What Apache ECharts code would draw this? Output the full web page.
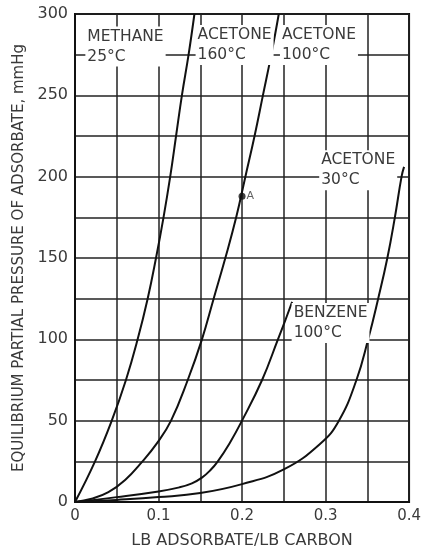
<!DOCTYPE html>
<html><head><meta charset="utf-8">
<script src="https://cdn.jsdelivr.net/npm/echarts@6/dist/echarts.min.js"></script>
<style>html,body{margin:0;padding:0;background:#fff}#c{width:424px;height:554px}</style>
</head><body><div id="c"></div>
<script>
// ---- data ----
var methane25 = [[0,0],[0.024,25],[0.044,50],[0.061,75],[0.075,100],[0.087,125],[0.097,150],[0.106,175],[0.114,200],[0.121,225],[0.128,250],[0.136,275],[0.143,300]];
var acetone160 = [[0,0],[0.02,2],[0.04,6],[0.06,13.5],[0.08,24.5],[0.098,36],[0.115,50],[0.135,75],[0.152,100],[0.166,125],[0.18,150],[0.193,175],[0.204,200],[0.215,225],[0.225,250],[0.235,275],[0.244,300]];
var benzene100 = [[0,0],[0.05,3],[0.1,6.5],[0.125,9],[0.14,11.5],[0.152,15],[0.162,19.5],[0.171,25],[0.185,36],[0.2,50],[0.224,75],[0.243,100],[0.252,112],[0.26,123]];
var acetone30 = [[0,0],[0.05,1.3],[0.1,3],[0.15,5.5],[0.2,11],[0.25,20],[0.294,36],[0.316,50],[0.337,75],[0.351,100],[0.363,125],[0.374,150],[0.383,175],[0.391,200],[0.394,206]];
var pointA = [[0.2,188]];
var xTickLabels = ['0','0.1','0.2','0.3','0.4'];
var yTickLabels = ['0','50','100','150','200','250','300'];
var curveLabels = ['METHANE\n25°C','ACETONE\n160°C','ACETONE\n100°C','ACETONE\n30°C','BENZENE\n100°C','A'];

var FONT = 'DejaVu Sans';
var TXT = '#3a3a3a';
function lbl(text, x, y) {
  return {
    coord: [x, y], symbol: 'rect', symbolSize: 1,
    itemStyle: {color: 'rgba(0,0,0,0)'},
    label: {show: true, formatter: text, position: [0, 0], align: 'left', verticalAlign: 'top',
      color: TXT, fontFamily: FONT, fontSize: 15.5, lineHeight: 20,
      backgroundColor: '#fff', padding: [0, 2, 0, 2]}
  };
}
function curve(name, data, marks) {
  return {
    name: name, type: 'line', data: data, smooth: 0.45,
    showSymbol: false, symbol: 'none',
    lineStyle: {color: '#111', width: 2}, z: 3,
    markPoint: marks ? {data: marks, z: 5, animation: false} : undefined,
    animation: false
  };
}
var chart = echarts.init(document.getElementById('c'), null, {renderer: 'canvas'});
chart.setOption({
  backgroundColor: '#fff',
  animation: false,
  grid: {left: 75, right: 13, top: 14, bottom: 46, show: true, borderColor: '#111', borderWidth: 2, backgroundColor: 'transparent'},
  xAxis: {
    type: 'value', min: 0, max: 0.4, interval: 0.05,
    name: 'LB ADSORBATE/LB CARBON', nameLocation: 'middle', nameGap: 31,
    nameTextStyle: {color: TXT, fontFamily: FONT, fontSize: 16},
    axisLine: {show: true, lineStyle: {color: '#111', width: 2}},
    axisTick: {show: false},
    axisLabel: {color: TXT, fontFamily: FONT, fontSize: 15, margin: 7,
      formatter: function (v) { var k = Math.round(v * 10); return Math.abs(v * 10 - k) < 1e-6 ? xTickLabels[k] : ''; }},
    splitLine: {show: true, lineStyle: {color: '#222', width: 1.5}}
  },
  yAxis: {
    type: 'value', min: 0, max: 300, interval: 25,
    name: 'EQUILIBRIUM PARTIAL PRESSURE OF ADSORBATE, mmHg', nameLocation: 'middle', nameGap: 43,
    nameTextStyle: {color: TXT, fontFamily: FONT, fontSize: 15},
    axisLine: {show: true, lineStyle: {color: '#111', width: 2}},
    axisTick: {show: false},
    axisLabel: {color: TXT, fontFamily: FONT, fontSize: 16, margin: 7,
      formatter: function (v) { return v % 50 === 0 ? yTickLabels[v / 50] : ''; }},
    splitLine: {show: true, lineStyle: {color: '#222', width: 1.5}}
  },
  series: [
    curve('methane25', methane25, [lbl(curveLabels[0], 0.013, 292), lbl(curveLabels[1], 0.145, 293)]),
    curve('acetone160', acetone160, [lbl(curveLabels[2], 0.246, 293)]),
    curve('benzene100', benzene100, [lbl(curveLabels[4], 0.26, 122)]),
    curve('acetone30', acetone30, [lbl(curveLabels[3], 0.293, 216)]),
    {name: 'A', type: 'scatter', data: pointA, symbolSize: 7, itemStyle: {color: '#111'}, z: 6,
      label: {show: true, formatter: curveLabels[5], position: 'right', distance: 1, color: TXT, fontFamily: FONT, fontSize: 11}, animation: false}
  ]
});
</script></body></html>
